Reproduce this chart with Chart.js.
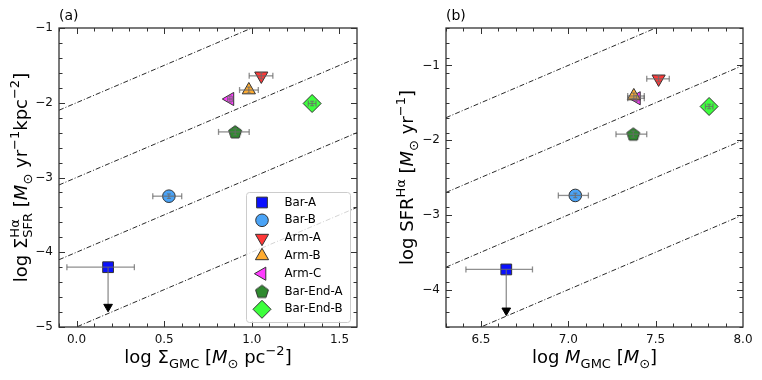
<!DOCTYPE html>
<html>
<head>
<meta charset="utf-8">
<script src="https://cdn.jsdelivr.net/npm/chart.js@4"></script>
<style>
  body { margin: 0; background: #fff; }
  #wrap { position: relative; width: 762px; height: 380px; }
  .panel { position: absolute; top: 0; width: 381px; height: 380px; }
</style>
</head>
<body>
<div id="wrap">
  <div class="panel" style="left:0"><canvas id="chartA" width="381" height="380"></canvas></div>
  <div class="panel" style="left:381px"><canvas id="chartB" width="381" height="380"></canvas></div>
</div>
<script>
// regions of the galaxy, same order in both panels
const regions = ["Bar-A", "Bar-B", "Arm-A", "Arm-B", "Arm-C", "Bar-End-A", "Bar-End-B"];

// panel (a): log Sigma_GMC vs log Sigma_SFR
const logSigmaGmc    = [0.18, 0.527, 1.054, 0.983, 0.875, 0.905, 1.344];
const logSigmaGmcLo  = [-0.055, 0.435, 0.985, 0.93, 0.862, 0.81, 1.322];
const logSigmaGmcHi  = [0.33, 0.60, 1.12, 1.037, 0.888, 0.985, 1.366];
const logSigmaSfr    = [-4.2, -3.25, -1.64, -1.83, -1.95, -2.39, -2.01];
const logSigmaSfrErr = [0, 0.03, 0.04, 0.04, 0.04, 0.04, 0.03];
const sigmaSfrLimitTip = -4.73;   // Bar-A is an upper limit

// panel (b): log M_GMC vs log SFR
const logMgmc   = [6.645, 7.04, 7.517, 7.375, 7.39, 7.372, 7.806];
const logMgmcLo = [6.414, 6.943, 7.449, 7.34, 7.34, 7.273, 7.785];
const logMgmcHi = [6.795, 7.115, 7.578, 7.435, 7.435, 7.449, 7.828];
const logSfr    = [-3.73, -2.74, -1.18, -1.41, -1.44, -1.92, -1.55];
const logSfrErr = [0, 0.03, 0.04, 0.04, 0.04, 0.04, 0.03];
const sfrLimitTip = -4.28;

// constant depletion time lines (log y = log x + offset)
const depletionOffsetsA = [-2, -3, -4, -5];
const depletionOffsetsB = [-8, -9, -10, -11];

// axis ranges and ticks
const xRangeA = [-0.1, 1.6];
const yRangeA = [-5, -1];
const xTicksA = [0.0, 0.5, 1.0, 1.5];
const yTicksA = [-5, -4, -3, -2, -1];
const xRangeB = [6.3, 8.0];
const yRangeB = [-4.5, -0.5];
const xTicksB = [6.5, 7.0, 7.5, 8.0];
const yTicksB = [-4, -3, -2, -1];

// marker styles
const FONT = '"DejaVu Sans", sans-serif';
const EDGE = "#333333";
const ERR = "rgba(105,105,105,0.75)";
const markerFill = ["#0a10ff", "#4aa3f6", "#ff3838", "#ffac30", "#ff3cff", "#2f8a2f", "#3dff3d"];
const markerRotation = [0, 0, 180, 0, -90, 0, 0];
const markerRadius = [7.6, 6.3, 7.6, 7.6, 7.6, 7, 9];

function pentagon(r, fill) {
  const c = document.createElement("canvas");
  c.width = c.height = Math.ceil(2 * r + 4);
  const g = c.getContext("2d");
  const cx = c.width / 2, cy = c.height / 2 + 0.5;
  g.beginPath();
  for (let k = 0; k < 5; k++) {
    const a = -Math.PI / 2 + k * 2 * Math.PI / 5;
    const px = cx + r * Math.cos(a), py = cy + r * Math.sin(a);
    k === 0 ? g.moveTo(px, py) : g.lineTo(px, py);
  }
  g.closePath();
  g.fillStyle = fill;
  g.fill();
  g.strokeStyle = EDGE;
  g.lineWidth = 1;
  g.stroke();
  return c;
}

const markerShape = ["rect", "circle", "triangle", "triangle", "triangle", pentagon(6.8, markerFill[5]), "rectRot"];

function minorTicks(range, step) {
  const out = [];
  const n = Math.round((range[1] - range[0]) / step);
  for (let k = 0; k <= n; k++) out.push(+(range[0] + k * step).toFixed(4));
  return out;
}

function buildDatasets(xs, xlo, xhi, ys, yerr, limitTip, offsets, xRange) {
  const ds = [];
  offsets.forEach(c => {
    ds.push({
      data: xRange.map(x => ({ x: x, y: x + c })),
      showLine: true, borderColor: "#111", borderWidth: 0.9,
      borderDash: [5, 2, 1, 2], pointRadius: 0, order: 5
    });
  });
  regions.forEach((name, i) => {
    ds.push({
      label: name,
      data: [{ x: xs[i], y: ys[i] }],
      pointStyle: markerShape[i], pointRotation: markerRotation[i],
      pointRadius: markerRadius[i], backgroundColor: markerFill[i],
      borderColor: EDGE, borderWidth: 1, order: 3
    });
    // horizontal error bar with caps
    ds.push({
      data: [{ x: xlo[i], y: ys[i] }, { x: xhi[i], y: ys[i] }],
      showLine: true, borderColor: ERR, borderWidth: 1.3,
      pointStyle: "line", pointRotation: 90, pointRadius: 3,
      pointBorderColor: ERR, pointBorderWidth: 1.3, order: 1
    });
    if (i === 0) {
      // upper limit: shaft + arrow head
      ds.push({
        data: [{ x: xs[i], y: ys[i] }, { x: xs[i], y: limitTip }],
        showLine: true, borderColor: ERR, borderWidth: 1.3, pointRadius: 0, order: 2
      });
      ds.push({
        data: [{ x: xs[i], y: limitTip }],
        pointStyle: "triangle", pointRotation: 180, pointRadius: 5,
        backgroundColor: "#000", borderColor: "#000", borderWidth: 1, order: 0
      });
    } else {
      ds.push({
        data: [{ x: xs[i], y: ys[i] - yerr[i] }, { x: xs[i], y: ys[i] + yerr[i] }],
        showLine: true, borderColor: ERR, borderWidth: 1.2,
        pointStyle: "line", pointRotation: 0, pointRadius: 2,
        pointBorderColor: ERR, pointBorderWidth: 1.2, order: 1
      });
    }
  });
  return ds;
}

// rich text: segments [text, kind] kind: '', 'it', 'sub', 'sup', or {sup, sub}
const MAIN = 18, SMALL = 13;
function segFont(kind) {
  if (kind === "it") return `italic ${MAIN}px ${FONT}`;
  if (kind === "sub" || kind === "sup") return `${SMALL}px ${FONT}`;
  return `${MAIN}px ${FONT}`;
}
function richWidth(ctx, segs) {
  let w = 0;
  segs.forEach(([t, k]) => {
    if (typeof t === "object") {
      ctx.font = `${SMALL}px ${FONT}`;
      w += Math.max(ctx.measureText(t.sup).width, ctx.measureText(t.sub).width);
    } else {
      ctx.font = segFont(k);
      w += ctx.measureText(t).width;
    }
  });
  return w;
}
function drawRich(ctx, segs, x, y) {
  ctx.textAlign = "left";
  ctx.textBaseline = "alphabetic";
  ctx.fillStyle = "#000";
  segs.forEach(([t, k]) => {
    if (typeof t === "object") {
      ctx.font = `${SMALL}px ${FONT}`;
      ctx.fillText(t.sup, x, y - 8);
      ctx.fillText(t.sub, x, y + 4.5);
      x += Math.max(ctx.measureText(t.sup).width, ctx.measureText(t.sub).width);
      return;
    }
    ctx.font = segFont(k);
    const dy = k === "sub" ? 4.5 : k === "sup" ? -8 : 0;
    ctx.fillText(t, x, y + dy);
    x += ctx.measureText(t).width;
  });
}

const titleXA = [["log Σ", ""], ["GMC", "sub"], [" [", ""], ["M", "it"], ["⊙", "sub"], [" pc", ""], ["−2", "sup"], ["]", ""]];
const titleYA = [["log Σ", ""], [{ sup: "Hα", sub: "SFR" }, ""], [" [", ""], ["M", "it"], ["⊙", "sub"], [" yr", ""], ["−1", "sup"], ["kpc", ""], ["−2", "sup"], ["]", ""]];
const titleXB = [["log ", ""], ["M", "it"], ["GMC", "sub"], [" [", ""], ["M", "it"], ["⊙", "sub"], ["]", ""]];
const titleYB = [["log SFR", ""], ["Hα", "sup"], [" [", ""], ["M", "it"], ["⊙", "sub"], [" yr", ""], ["−1", "sup"], ["]", ""]];

function framePlugin(xMinor, yMinor, titleX, titleY, yTitleX, tag, legend) {
  return {
    id: "frame",
    afterDraw(chart) {
      const { ctx, chartArea: a, scales } = chart;
      const sx = scales.x, sy = scales.y;
      ctx.save();
      // ticks inward on all sides
      ctx.strokeStyle = "#333";
      ctx.lineWidth = 1;
      const tickSet = (vals, len, isX) => {
        vals.forEach(v => {
          ctx.beginPath();
          if (isX) {
            const p = Math.round(sx.getPixelForValue(v)) + 0.5;
            if (p < a.left || p > a.right) return;
            ctx.moveTo(p, a.bottom); ctx.lineTo(p, a.bottom - len);
            ctx.moveTo(p, a.top); ctx.lineTo(p, a.top + len);
          } else {
            const p = Math.round(sy.getPixelForValue(v)) + 0.5;
            if (p < a.top - 1 || p > a.bottom + 1) return;
            ctx.moveTo(a.left, p); ctx.lineTo(a.left + len, p);
            ctx.moveTo(a.right, p); ctx.lineTo(a.right - len, p);
          }
          ctx.stroke();
        });
      };
      tickSet(xMinor, 3.5, true);
      tickSet(yMinor, 3.5, false);
      tickSet(sx.ticks.map(t => t.value), 6, true);
      tickSet(sy.ticks.map(t => t.value), 6, false);
      ctx.lineWidth = 1.3;
      ctx.strokeRect(a.left, a.top, a.right - a.left, a.bottom - a.top);

      // panel tag
      ctx.font = `14px ${FONT}`;
      ctx.fillStyle = "#000";
      ctx.textAlign = "left";
      ctx.fillText(tag, a.left, 20);

      // axis titles
      const wx = richWidth(ctx, titleX);
      drawRich(ctx, titleX, (a.left + a.right) / 2 - wx / 2, 363);
      const wy = richWidth(ctx, titleY);
      ctx.save();
      ctx.translate(yTitleX, (a.top + a.bottom) / 2 + wy / 2);
      ctx.rotate(-Math.PI / 2);
      drawRich(ctx, titleY, 0, 0);
      ctx.restore();

      if (legend) {
        const bx = a.right - 111, by = a.bottom - 135, bw = 104, bh = 130;
        ctx.fillStyle = "rgba(255,255,255,0.8)";
        ctx.strokeStyle = "#cccccc";
        ctx.lineWidth = 1;
        ctx.beginPath();
        ctx.roundRect(bx + 0.5, by + 0.5, bw, bh, 3);
        ctx.fill();
        ctx.stroke();
        regions.forEach((name, i) => {
          const cy = by + 10.5 + i * 17.8;
          ctx.fillStyle = markerFill[i];
          ctx.strokeStyle = EDGE;
          ctx.lineWidth = 1;
          Chart.helpers.drawPoint(ctx, {
            pointStyle: markerShape[i], rotation: markerRotation[i],
            radius: markerRadius[i], borderWidth: 1
          }, bx + 16, cy);
          ctx.fillStyle = "#000";
          ctx.font = `11.8px ${FONT}`;
          ctx.textAlign = "left";
          ctx.textBaseline = "middle";
          ctx.fillText(name, bx + 38.5, cy);
          ctx.textBaseline = "alphabetic";
        });
      }
      ctx.restore();
    }
  };
}

function makeChart(id, datasets, xRange, yRange, xTicks, yTicks, padRight, plugin) {
  return new Chart(document.getElementById(id), {
    type: "scatter",
    data: { datasets: datasets },
    options: {
      responsive: false,
      animation: false,
      events: [],
      layout: { padding: { top: 28, right: padRight, bottom: 0, left: 0 } },
      plugins: { legend: { display: false }, tooltip: { enabled: false } },
      scales: {
        x: {
          type: "linear", min: xRange[0], max: xRange[1],
          grid: { display: false, drawTicks: false }, border: { display: false },
          afterBuildTicks: s => { s.ticks = xTicks.map(v => ({ value: v })); },
          afterFit: s => { s.height = 53; },
          ticks: {
            autoSkip: false, maxRotation: 0, padding: 6, color: "#111",
            font: { family: FONT, size: 12 },
            callback: v => v.toFixed(1)
          }
        },
        y: {
          type: "linear", min: yRange[0], max: yRange[1],
          grid: { display: false, drawTicks: false }, border: { display: false },
          afterBuildTicks: s => { s.ticks = yTicks.map(v => ({ value: v })); },
          afterFit: s => { s.width = s.chart.canvas.id === "chartA" ? 59 : 65; },
          ticks: {
            autoSkip: false, padding: 6, color: "#111",
            font: { family: FONT, size: 12 },
            callback: v => String(v).replace("-", "−")
          }
        }
      }
    },
    plugins: [plugin]
  });
}

makeChart("chartA",
  buildDatasets(logSigmaGmc, logSigmaGmcLo, logSigmaGmcHi, logSigmaSfr, logSigmaSfrErr, sigmaSfrLimitTip, depletionOffsetsA, xRangeA),
  xRangeA, yRangeA, xTicksA, yTicksA, 24,
  framePlugin(minorTicks(xRangeA, 0.1), minorTicks(yRangeA, 0.2), titleXA, titleYA, 27, "(a)", true));

makeChart("chartB",
  buildDatasets(logMgmc, logMgmcLo, logMgmcHi, logSfr, logSfrErr, sfrLimitTip, depletionOffsetsB, xRangeB),
  xRangeB, yRangeB, xTicksB, yTicksB, 19,
  framePlugin(minorTicks(xRangeB, 0.1), minorTicks(yRangeB, 0.2), titleXB, titleYB, 32, "(b)", false));
</script>
</body>
</html>
